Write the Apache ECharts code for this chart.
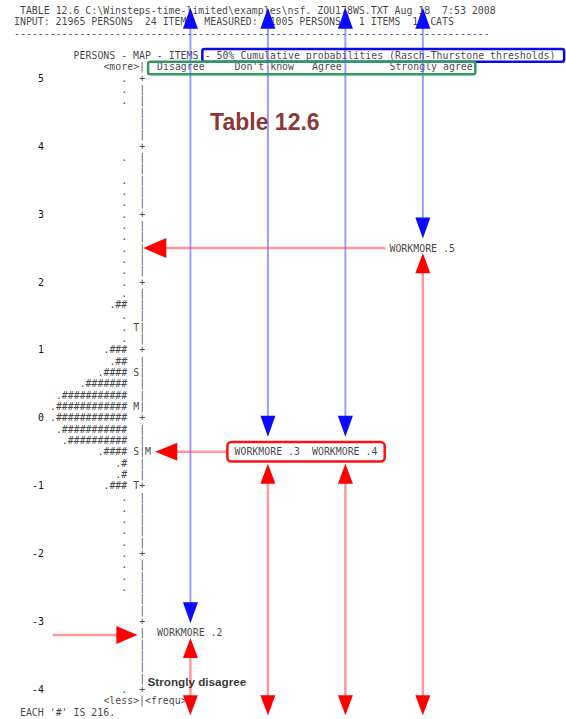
<!DOCTYPE html>
<html><head><meta charset="utf-8">
<script src="https://cdn.jsdelivr.net/npm/echarts@6/dist/echarts.min.js"></script>
<style>html,body{margin:0;padding:0;background:#fff}#c{width:566px;height:719px}</style>
</head><body><div id="c"></div>
<script>
// ================= DATA =================
const logitTicks = [5, 4, 3, 2, 1, 0, -1, -2, -3, -4];
const rowsPerLogit = 6;
// person distribution ('#' = 216 persons, '.' = 1..215), one entry per map row, +5 down to -4
const personRows = [
  '.', '.', '.', '', '', '', '',
  '.', '', '.', '.', '.', '.',
  '.', '.', '.', '.', '.', '.',
  '.', '.##', '.', '.', '.', '.###',
  '.##', '.####', '.#######', '.###########', '.############', '.############',
  '.###########', '.##########', '.####', '.#', '.#', '.###',
  '.', '.', '.', '.', '.', '.',
  '.', '.', '.', '', '', '',
  '', '', '', '', '', '.'
];
const personStatLogits = [1.333, 0.667, 0.167, -0.5, -1.0];
const personStatMarks = ['T', 'S', 'M', 'S', 'T'];
const itemStatLogits = [-0.5];
const itemStatMarks = ['M'];
const categories = ['Strongly disagree', 'Disagree', "Don't know", 'Agree', 'Strongly agree'];
const itemLabels = ['WORKMORE .2', 'WORKMORE .3', 'WORKMORE .4', 'WORKMORE .5'];
const itemMeasures = [-3.167, -0.5, -0.5, 2.5];
const headerLines = [
  'TABLE 12.6 C:\\Winsteps-time-limited\\examples\\nsf. ZOU178WS.TXT Aug 18  7:53 2008',
  'INPUT: 21965 PERSONS  24 ITEMS  MEASURED: 21005 PERSONS   1 ITEMS  12 CATS',
  '--------------------------------------------------------------------------------'
];
const mapTitle = 'PERSONS - MAP - ITEMS';
const mapSubtitle = '- 50% Cumulative probabilities (Rasch-Thurstone thresholds)';
const footerLines = ["EACH '#' IS 216."];
const annotationTitle = 'Table 12.6';

// ================= LAYOUT / STYLE =================
const CW = 5.96, X0 = 14;
const FONT = 'DejaVu Sans Mono', FS = 9.9, TXT = '#111111';
const yMax = 5 + 78.3 / 67.9, yMin = -4 - (719 - 689.4) / 67.9;
const ROW = 1 / rowsPerLogit;
const catCols = [24, 37, 50, 63];   // columns of Disagree .. Strongly agree in header
const nb = s => s.replace(/ /g, '\u00a0');

function textSeries(items, opt) {
  opt = opt || {};
  return {
    type: 'scatter', symbolSize: 0, silent: true, z: opt.z || 2,
    data: items.map(it => ({ value: [it.c, it.y], name: nb(it.t) })),
    label: {
      show: true, position: opt.pos || 'right', distance: 0,
      formatter: p => p.name,
      fontFamily: opt.font || FONT, fontSize: opt.fs || FS, color: opt.color || TXT,
      fontWeight: opt.fw || 'normal'
    }
  };
}

// map rows
const rowLogit = i => 5 - i * ROW;
const personItems = [], axisItems = [], statItems = [];
personRows.forEach((t, i) => {
  const y = rowLogit(i);
  if (t) personItems.push({ c: 19, y, t });
  const isInt = i % rowsPerLogit === 0;
  axisItems.push({ c: 21, y, t: isInt ? '+' : '|' });
});
personStatLogits.forEach((y, k) => statItems.push({ c: 20, y, t: personStatMarks[k] }));
itemStatLogits.forEach((y, k) => statItems.push({ c: 22, y, t: itemStatMarks[k] }));

const itemCols = itemLabels.map((_, k) => catCols[k]);
const itemItems = itemLabels.map((t, k) => ({ c: itemCols[k], y: itemMeasures[k], t }));

const headItems = [
  { c: 1, y: 5 + 6 * ROW, t: headerLines[0] },
  { c: 0, y: 5 + 5 * ROW, t: headerLines[1] },
  { c: 0, y: 5 + 4 * ROW, t: headerLines[2] },
  { c: 10, y: 5 + 2 * ROW, t: mapTitle },
  { c: 32, y: 5 + 2 * ROW, t: mapSubtitle },
  { c: 15, y: 5 + ROW, t: '<more>|' },
  { c: 15, y: -4 - ROW, t: '<less>|<frequ>' },
  { c: 1, y: -4 - 2 * ROW, t: footerLines[0] }
];
categories.slice(1).forEach((t, k) => headItems.push({ c: catCols[k], y: 5 + ROW, t }));

// ---- annotations derived from item data ----
const BLUE_L = 'rgba(90,90,255,0.6)', BLUE_H = '#0a0aff';
const RED_L = 'rgba(255,70,70,0.55)', RED_H = '#ff0000';
const TOP = 6.04, BOTTOM = -4.38;
const boxed = [1, 2];
const boxTop = itemMeasures[1] + 0.145, boxBot = itemMeasures[1] - 0.145;
const shapes = [];
itemLabels.forEach((_, k) => {
  const ac = itemCols[k] + 5.6;
  const inBox = boxed.includes(k);
  shapes.push({ kind: 'arrow', x1: ac, y1: TOP, x2: ac, y2: inBox ? boxTop + 0.075 : itemMeasures[k] + 0.14,
    h1: true, h2: true, line: BLUE_L, head: BLUE_H, lw: 2, len: 21, hw: 7.5 });
  shapes.push({ kind: 'arrow', x1: ac, y1: inBox ? boxBot - 0.03 : itemMeasures[k] - 0.075, x2: ac, y2: BOTTOM,
    h1: true, h2: true, line: RED_L, head: RED_H, lw: 2.5, len: 20, hw: 7.5 });
});
// horizontal red pointers to the map column
shapes.push({ kind: 'arrow', x1: itemCols[3] - 0.7, y1: itemMeasures[3], x2: 21.7, y2: itemMeasures[3],
  h2: true, line: RED_L, head: RED_H, lw: 2.5, len: 23, hw: 10 });
shapes.push({ kind: 'arrow', x1: itemCols[1] - 1.2, y1: itemMeasures[1], x2: 23.7, y2: itemMeasures[1],
  h2: true, line: RED_L, head: RED_H, lw: 2.5, len: 22, hw: 9 });
shapes.push({ kind: 'arrow', x1: 6.5, y1: itemMeasures[0] - 0.03, x2: 20.7, y2: itemMeasures[0] - 0.03,
  h2: true, line: RED_L, head: RED_H, lw: 2.5, len: 21, hw: 9 });
// boxes
shapes.push({ kind: 'box', x1: itemCols[1] - 1.2, y1: boxTop, x2: itemCols[2] + 12.2, y2: boxBot, color: '#ff1010', r: 4 });
shapes.push({ kind: 'box', x1: 31.6, y1: 5.43, x2: 92.3, y2: 5.245, color: '#0a0aee', r: 2 });
shapes.push({ kind: 'box', x1: 22.5, y1: 5.245, x2: 77.4, y2: 5.06, color: '#2f9a5f', r: 2 });

function head(tip, d, len, hw, color) {
  const bx = tip[0] - d[0] * len, by = tip[1] - d[1] * len;
  const nx = -d[1], ny = d[0];
  return { type: 'polygon', shape: { points: [tip, [bx + nx * hw, by + ny * hw], [bx - nx * hw, by - ny * hw]] },
    style: { fill: color } };
}
function renderItem(params, api) {
  const s = shapes[params.dataIndex];
  const p1 = api.coord([s.x1, s.y1]), p2 = api.coord([s.x2, s.y2]);
  if (s.kind === 'box') {
    return { type: 'rect', shape: { x: Math.min(p1[0], p2[0]), y: Math.min(p1[1], p2[1]),
      width: Math.abs(p2[0] - p1[0]), height: Math.abs(p2[1] - p1[1]), r: s.r },
      style: { fill: 'none', stroke: s.color, lineWidth: 2.5 } };
  }
  const dx = p2[0] - p1[0], dy = p2[1] - p1[1], L = Math.hypot(dx, dy), d = [dx / L, dy / L];
  const a = s.h1 ? [p1[0] + d[0] * s.len * 0.7, p1[1] + d[1] * s.len * 0.7] : p1;
  const b = s.h2 ? [p2[0] - d[0] * s.len * 0.7, p2[1] - d[1] * s.len * 0.7] : p2;
  const ch = [{ type: 'line', shape: { x1: a[0], y1: a[1], x2: b[0], y2: b[1] }, style: { stroke: s.line, lineWidth: s.lw } }];
  if (s.h1) ch.push(head(p1, [-d[0], -d[1]], s.len, s.hw, s.head));
  if (s.h2) ch.push(head(p2, d, s.len, s.hw, s.head));
  return { type: 'group', children: ch };
}

const chart = echarts.init(document.getElementById('c'), null, { renderer: 'svg' });
chart.setOption({
  animation: false,
  backgroundColor: '#fff',
  grid: { left: X0, right: 0, top: 0, bottom: 0, containLabel: false, outerBoundsMode: 'none' },
  xAxis: { type: 'value', min: 0, max: (566 - X0) / CW, show: false },
  yAxis: {
    type: 'value', min: yMin, max: yMax, offset: -30,
    axisLine: { show: false }, axisTick: { show: false }, splitLine: { show: false },
    axisLabel: { customValues: logitTicks, margin: 0, fontFamily: FONT, fontSize: FS, color: TXT,
      formatter: v => String(v) }
  },
  series: [
    textSeries(personItems, { pos: 'left' }),
    textSeries(axisItems),
    textSeries(statItems),
    textSeries(itemItems),
    textSeries(headItems),
    textSeries([{ c: 32.9, y: 4.36, t: annotationTitle }], { font: 'Liberation Sans', fs: 23, fw: 'bold', color: '#6e0000', z: 3 }),
    { type: 'custom', renderItem, clip: false, silent: true, z: 5,
      encode: { x: 0, y: 1 }, data: shapes.map(s => [s.x1, s.y1]) },
    textSeries([{ c: 22.4, y: -3.887, t: categories[0] }], { font: 'Liberation Sans', fs: 11.7, fw: 'bold', color: '#000', z: 6 })
  ]
});
</script></body></html>
